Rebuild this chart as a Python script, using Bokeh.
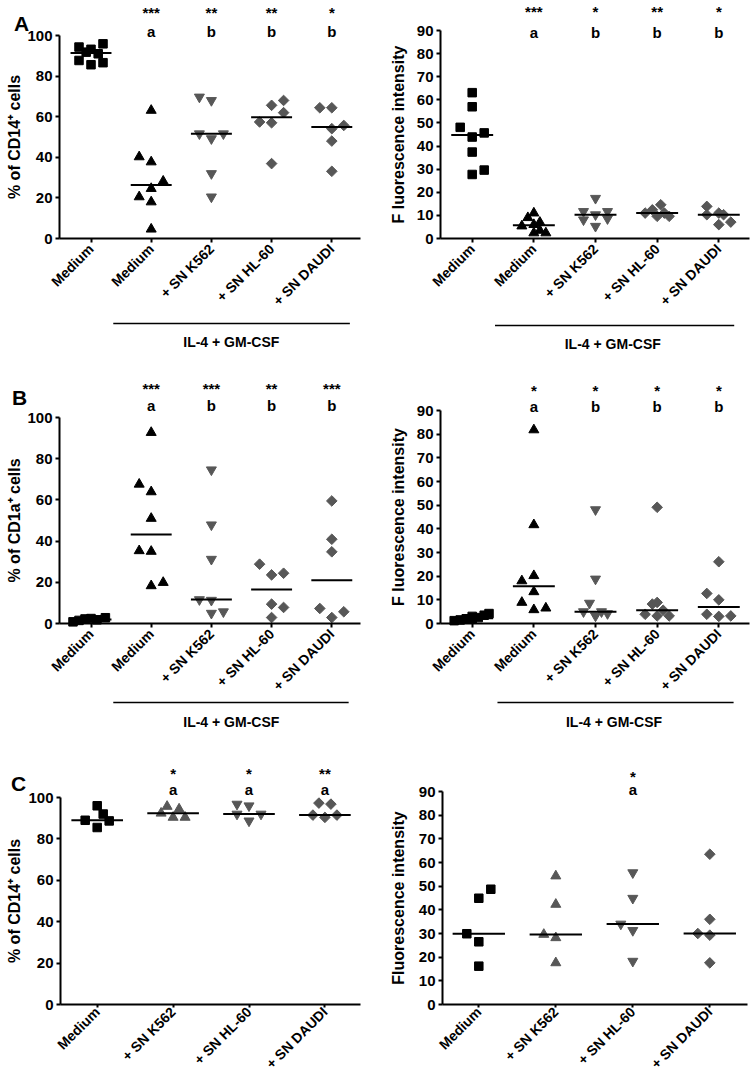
import math
import numpy as np
from bokeh.plotting import figure
from bokeh.models import Range1d, FixedTicker, Label
from bokeh.layouts import column, row
from bokeh.embed import file_html
from bokeh.resources import INLINE

FONT = "Liberation Sans"
BLACK = "#000000"
GRAY = "#575757"

CATS5 = ["Medium", "Medium", "+ SN K562", "+ SN HL-60", "+ SN DAUDI"]
CATS4 = ["Medium", "+ SN K562", "+ SN HL-60", "+ SN DAUDI"]
IL4_TEXT = "IL-4 + GM-CSF"

# ---------------- Panel A, left: % of CD14+ cells ----------------
A1_MEDIUM = [94.3, 93.2, 95.9, 91.0, 87.7, 85.6, 86.6, 91.8]
A1_IL4 = [63.1, 40.2, 37.7, 28.2, 24.6, 20.5, 18.0, 4.6]
A1_K562 = [69.7, 68.0, 51.6, 49.2, 51.6, 32.0, 20.5]
A1_HL60 = [65.6, 68.0, 62.0, 57.4, 57.0, 36.9]
A1_DAUDI = [64.4, 64.4, 54.1, 55.7, 48.0, 33.1]
A1_SPREAD = [[-1, 0, 1, 0.6, -1, 0, 1, -0.4], [0, -1, 0, 1, 0, -1, 0, 0],
             [-1, 0, -1, 0, 1, 0, 0], [0, 1, 1, -1, 0, 0], [-1, 0, 0, 1, 0, 0]]
A1_STARS = ["", "***", "**", "**", "*"]
A1_LETTERS = ["", "a", "b", "b", "b"]

# ---------------- Panel A, right: fluorescence intensity ----------------
A2_MEDIUM = [63.1, 57.0, 48.1, 43.9, 45.7, 37.4, 29.6, 27.7]
A2_IL4 = [11.0, 9.0, 7.0, 6.0, 5.4, 3.5, 2.4, 2.4]
A2_K562 = [17.4, 11.7, 11.7, 10.3, 8.1, 8.6, 5.3]
A2_HL60 = [11.0, 12.4, 14.6, 9.6, 9.6, 11.0]
A2_DAUDI = [13.9, 10.3, 11.0, 10.3, 6.0, 7.1]
A2_SPREAD = [[0, 0, -1, 0, 1, 0, 1, 0], [0, -0.5, 0.5, 0, -1, 0.5, 0, 1],
             [0, -1, 1, 0, -1, 1, 0], [-1, -0.4, 0.3, 0, 1, 0.6], [-1, -1, 0, 0.4, 0, 1]]
A2_STARS = ["", "***", "*", "**", "*"]
A2_LETTERS = ["", "a", "b", "b", "b"]

# ---------------- Panel B, left: % of CD1a+ cells ----------------
B1_MEDIUM = [0.8, 1.5, 2.2, 2.4, 1.8, 2.8]
B1_IL4 = [92.7, 67.6, 63.9, 51.0, 35.3, 35.0, 18.3, 19.9]
B1_K562 = [74.6, 47.9, 31.2, 11.6, 11.3, 5.0, 5.7]
B1_HL60 = [28.8, 23.6, 24.4, 9.4, 7.8, 2.9]
B1_DAUDI = [59.5, 40.9, 34.8, 7.3, 2.9, 5.7]
B1_SPREAD = [[-1.5, -1, -0.5, 0, 0.5, 1.2], [0, -1, 0, 0, -1, 0, 0, 1],
             [0, 0, 0, -1, 0, 0, 1], [-1, 0, 1, 0, 1, 0], [0, 0, 0, -1, 0, 1]]
B1_STARS = ["", "***", "***", "**", "***"]
B1_LETTERS = ["", "a", "b", "b", "b"]

# ---------------- Panel B, right: fluorescence intensity ----------------
B2_MEDIUM = [1.2, 1.5, 1.8, 2.0, 2.5, 3.0, 3.5, 4.2]
B2_IL4 = [81.8, 41.7, 18.0, 20.2, 13.4, 8.9, 5.8, 6.5]
B2_K562 = [48.1, 18.8, 8.6, 5.0, 3.2, 5.0, 4.2]
B2_HL60 = [49.1, 8.2, 8.9, 3.9, 3.2, 5.6, 3.2]
B2_DAUDI = [26.1, 12.7, 10.0, 3.9, 3.0, 3.2]
B2_SPREAD = [[-1.5, -1, 0, -0.5, 0.5, 0, 1, 1.4], [0, 0, -1, 0, 0, -1, 0, 1],
             [0, 0, -0.5, -1, 0, 0.5, 1], [0, -0.4, 0, -1, 0, 0.5, 1], [0, -1, 0, -1, 0, 1]]
B2_STARS = ["", "*", "*", "*", "*"]
B2_LETTERS = ["", "a", "b", "b", "b"]

# ---------------- Panel C, left: % of CD14+ cells ----------------
C1_MEDIUM = [96.0, 92.0, 89.0, 88.7, 85.5]
C1_K562 = [95.7, 94.4, 92.4, 90.4, 90.4]
C1_HL60 = [96.8, 96.0, 92.0, 88.7, 92.0]
C1_DAUDI = [97.3, 96.8, 91.5, 90.4, 91.5]
C1_SPREAD = [[0, 0.5, -1, 1, 0], [-0.5, 0.5, -1, 0, 1], [-1, 0, -1, 0, 1], [-0.5, 0.5, -1, 0, 1]]
C1_STARS = ["", "*", "*", "**"]
C1_LETTERS = ["", "a", "a", "a"]

# ---------------- Panel C, right: fluorescence intensity ----------------
C2_MEDIUM = [29.9, 48.7, 44.9, 26.5, 16.2]
C2_K562 = [54.3, 42.3, 29.6, 28.2, 17.6]
C2_HL60 = [55.7, 44.9, 34.0, 31.3, 18.3]
C2_DAUDI = [63.5, 36.0, 30.0, 29.3, 17.6]
C2_SPREAD = [[-1, 1, 0, 0, 0], [0, 0, -1, 0, 0], [0, 0, -1, 0, 0], [0, 0, -1, 0, 0]]
C2_STARS = ["", "", "*", ""]
C2_LETTERS = ["", "", "a", ""]

MARK5 = [("square", BLACK), ("triangle", BLACK), ("inverted_triangle", GRAY),
         ("diamond", GRAY), ("diamond", GRAY)]
MARK4 = [("square", BLACK), ("triangle", GRAY), ("inverted_triangle", GRAY), ("diamond", GRAY)]

SLOT_PX = 12.0
HALF_MED = 0.34


def make_panel(origin, size, frame, c0, sp, ymax, ystep, ylabel, cats, groups, spreads,
               marks, stars, letters, star_y, letter_y, tag=None, il4=None,
               ylab_standoff=3, xtick_out=4, xlab_standoff=4, xlab_size="14px"):
    ox, oy = origin
    w, h = size
    fl, fr, ft, fb = frame
    k = (fb - ft) / ymax

    def X(rx):
        return (rx - c0) / sp

    def Y(ry):
        return (fb - ry) / k

    p = figure(width=w, height=h, x_range=Range1d(X(ox), X(ox + w)),
               y_range=Range1d(Y(oy + h), Y(oy)),
               min_border=0, min_border_left=0, min_border_right=0,
               min_border_top=0, min_border_bottom=0,
               toolbar_location=None, output_backend="svg")
    p.outline_line_color = None
    p.xgrid.visible = False
    p.ygrid.visible = False
    p.background_fill_color = "white"
    p.border_fill_color = "white"

    # axes drawn at their data location
    xa = p.xaxis[0]
    xa.fixed_location = 0
    xa.bounds = (X(fl), X(fr))
    xa.ticker = FixedTicker(ticks=list(range(len(cats))))
    xa.major_label_overrides = {i: c for i, c in enumerate(cats)}
    xa.major_label_orientation = math.pi / 4
    xa.major_label_text_font = FONT
    xa.major_label_text_font_style = "bold"
    xa.major_label_text_font_size = xlab_size
    xa.major_label_text_color = BLACK
    xa.major_label_standoff = xlab_standoff
    xa.major_tick_in = 0
    xa.major_tick_out = xtick_out
    xa.minor_tick_line_color = None
    xa.axis_line_width = 2
    xa.major_tick_line_width = 2

    ya = p.yaxis[0]
    ya.fixed_location = X(fl)
    ya.bounds = (0, ymax)
    ya.ticker = FixedTicker(ticks=list(range(0, ymax + 1, ystep)))
    ya.major_label_text_font = FONT
    ya.major_label_text_font_style = "bold"
    ya.major_label_text_font_size = "15px"
    ya.major_label_text_color = BLACK
    ya.major_label_standoff = 3
    ya.major_tick_in = 0
    ya.major_tick_out = 4
    ya.minor_tick_line_color = None
    ya.axis_line_width = 2
    ya.major_tick_line_width = 2
    ya.axis_label = ylabel
    ya.axis_label_text_font = FONT
    ya.axis_label_text_font_style = "bold"
    ya.axis_label_text_font_size = "16px"
    ya.axis_label_text_color = BLACK
    ya.axis_label_standoff = ylab_standoff

    # points and medians
    mx0, mx1, my = [], [], []
    for i, (vals, spr, (mk, col)) in enumerate(zip(groups, spreads, marks)):
        xs = [i + s * SLOT_PX / sp for s in spr]
        if mk == "diamond":
            p.scatter(xs, vals, marker="square", angle=math.pi / 4, size=7.5,
                      fill_color=col, line_color=col)
        elif mk == "square":
            p.scatter(xs, vals, marker="square", size=8.5, fill_color=col, line_color=col)
        else:
            p.scatter(xs, vals, marker=mk, size=10, fill_color=col, line_color=col)
        m = float(np.median(vals))
        mx0.append(i - HALF_MED)
        mx1.append(i + HALF_MED)
        my.append(m)
    p.segment(mx0, my, mx1, my, line_color=BLACK, line_width=2)

    # significance marks
    for i, (s, l) in enumerate(zip(stars, letters)):
        if s:
            p.add_layout(Label(x=i, y=Y(star_y + 5), text=s, text_font=FONT,
                               text_font_style="bold", text_font_size="15px",
                               text_align="center", text_baseline="middle", text_color=BLACK))
        if l:
            p.add_layout(Label(x=i, y=Y(letter_y + 1), text=l, text_font=FONT,
                               text_font_style="bold", text_font_size="15px",
                               text_align="center", text_baseline="middle", text_color=BLACK))

    if tag is not None:
        t, tx, ty = tag
        p.add_layout(Label(x=X(tx), y=Y(ty + 2), text=t, text_font=FONT, text_font_style="bold",
                           text_font_size="21px", text_align="center",
                           text_baseline="middle", text_color=BLACK))

    if il4 is not None:
        line_y, text_y, lx0, lx1, tcx = il4
        p.segment([lx0], [Y(line_y)], [lx1], [Y(line_y)], line_color=BLACK, line_width=1.5)
        p.add_layout(Label(x=tcx, y=Y(text_y + 1), text=IL4_TEXT, text_font=FONT,
                           text_font_style="bold", text_font_size="14px", text_align="center",
                           text_baseline="middle", text_color=BLACK))
    return p


# Row A
pa1 = make_panel((0, 0), (370, 358), (59, 360, 35, 238), 90.5, 60.2, 100, 20,
                 "% of CD14\u207a cells", CATS5,
                 [A1_MEDIUM, A1_IL4, A1_K562, A1_HL60, A1_DAUDI], A1_SPREAD, MARK5,
                 A1_STARS, A1_LETTERS, 7, 30, tag=("A", 21, 21),
                 il4=(323, 340, 0.37, 4.3, 2.33), ylab_standoff=1)
pa2 = make_panel((370, 0), (380, 358), (440, 749, 30, 238), 471.7, 61.65, 90, 10,
                 "F luorescence intensity", CATS5,
                 [A2_MEDIUM, A2_IL4, A2_K562, A2_HL60, A2_DAUDI], A2_SPREAD, MARK5,
                 A2_STARS, A2_LETTERS, 6, 31,
                 il4=(325, 342, 0.37, 4.25, 2.28), ylab_standoff=7)
# Row B
pb1 = make_panel((0, 358), (370, 370), (59, 360, 417, 623), 90.5, 60.2, 100, 20,
                 "% of CD1a\u207a cells", CATS5,
                 [B1_MEDIUM, B1_IL4, B1_K562, B1_HL60, B1_DAUDI], B1_SPREAD, MARK5,
                 B1_STARS, B1_LETTERS, 383, 404, tag=("B", 19, 395),
                 il4=(702, 720, 0.37, 4.28, 2.33), ylab_standoff=1)
pb2 = make_panel((370, 358), (380, 370), (440, 749, 410, 623), 471.7, 61.65, 90, 10,
                 "F luorescence intensity", CATS5,
                 [B2_MEDIUM, B2_IL4, B2_K562, B2_HL60, B2_DAUDI], B2_SPREAD, MARK5,
                 B2_STARS, B2_LETTERS, 385, 405,
                 il4=(702, 720, 0.41, 4.24, 2.3), ylab_standoff=7)
# Row C
pc1 = make_panel((0, 728), (370, 348), (60, 360, 797, 1004), 96.7, 75.9, 100, 20,
                 "% of CD14\u207a cells", CATS4,
                 [C1_MEDIUM, C1_K562, C1_HL60, C1_DAUDI], C1_SPREAD, MARK4,
                 C1_STARS, C1_LETTERS, 768, 788, tag=("C", 18, 781),
                 ylab_standoff=2, xtick_out=3, xlab_standoff=2, xlab_size="14px")
pc2 = make_panel((370, 728), (380, 348), (442, 747, 791, 1004), 478.3, 77.0, 90, 10,
                 "Fluorescence intensity", CATS4,
                 [C2_MEDIUM, C2_K562, C2_HL60, C2_DAUDI], C2_SPREAD, MARK4,
                 C2_STARS, C2_LETTERS, 771, 788,
                 ylab_standoff=9, xtick_out=3, xlab_standoff=2, xlab_size="14px")

layout = column(row(pa1, pa2), row(pb1, pb2), row(pc1, pc2))
open("out.html", "w").write(file_html(layout, INLINE))
